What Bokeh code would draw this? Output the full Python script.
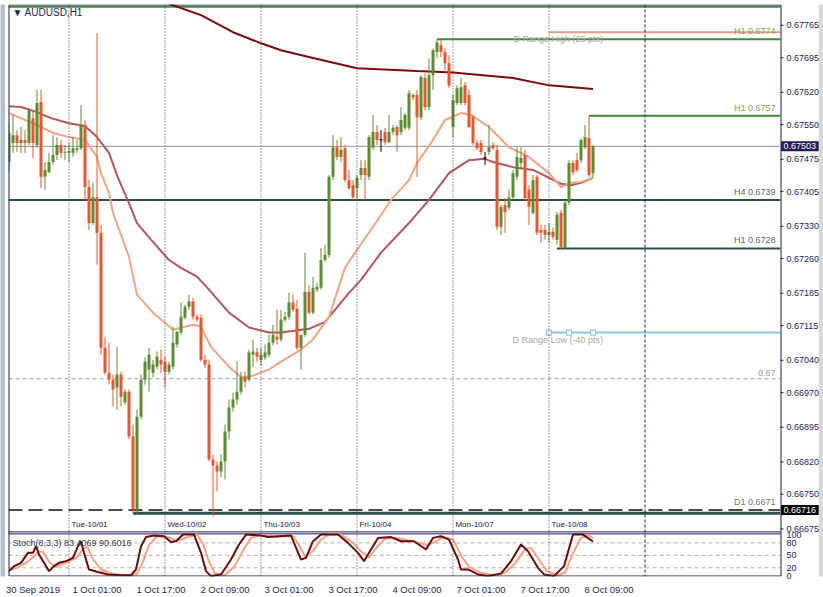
from bokeh.plotting import figure
from bokeh.models import (Range1d, LinearAxis, FixedTicker, Span, Label, ColumnDataSource)
from bokeh.core.properties import value
from bokeh.embed import file_html
from bokeh.resources import INLINE

# ---------------- data (AUDUSD H1, bar 0 = 30 Sep 2019 09:00) ----------------
OPEN = [0.67469, 0.67510, 0.67527, 0.67510, 0.67517, 0.67510, 0.67564, 0.67506, 0.67599, 0.67437,
        0.67447, 0.67469, 0.67484, 0.67506, 0.67489, 0.67489, 0.67489, 0.67495, 0.67499, 0.67549,
        0.67415, 0.67337, 0.67393, 0.67316, 0.67067, 0.67013, 0.66998, 0.66981, 0.67009, 0.66949,
        0.66972, 0.66875, 0.66717, 0.66918, 0.66998, 0.67020, 0.67013, 0.67026, 0.67041, 0.67037,
        0.67015, 0.67026, 0.67074, 0.67100, 0.67132, 0.67156, 0.67167, 0.67134, 0.67132, 0.67041,
        0.67031, 0.66825, 0.66812, 0.66799, 0.66821, 0.66886, 0.66938, 0.66955, 0.66972, 0.67003,
        0.66998, 0.67052, 0.67057, 0.67041, 0.67046, 0.67052, 0.67078, 0.67091, 0.67085, 0.67128,
        0.67134, 0.67165, 0.67152, 0.67067, 0.67095, 0.67188, 0.67143, 0.67193, 0.67197, 0.67257,
        0.67268, 0.67437, 0.67501, 0.67480, 0.67499, 0.67430, 0.67419, 0.67413, 0.67441, 0.67456,
        0.67437, 0.67501, 0.67534, 0.67517, 0.67534, 0.67512, 0.67534, 0.67545, 0.67534, 0.67543,
        0.67543, 0.67614, 0.67614, 0.67566, 0.67651, 0.67588, 0.67657, 0.67707, 0.67722, 0.67707,
        0.67683, 0.67545, 0.67597, 0.67597, 0.67635, 0.67614, 0.67566, 0.67510, 0.67510, 0.67478,
        0.67491, 0.67506, 0.67495, 0.67329, 0.67376, 0.67370, 0.67393, 0.67437, 0.67467, 0.67484,
        0.67409, 0.67359, 0.67437, 0.67322, 0.67322, 0.67311, 0.67318, 0.67301, 0.67359, 0.67283,
        0.67381, 0.67467, 0.67473, 0.67473, 0.67501, 0.67521, 0.67445]
HIGH = [0.67553, 0.67571, 0.67538, 0.67545, 0.67538, 0.67586, 0.67581, 0.67625, 0.67625, 0.67469,
        0.67489, 0.67527, 0.67523, 0.67517, 0.67506, 0.67510, 0.67523, 0.67517, 0.67592, 0.67560,
        0.67430, 0.67424, 0.67748, 0.67333, 0.67089, 0.67078, 0.67009, 0.67069, 0.67015, 0.66977,
        0.66977, 0.66901, 0.66933, 0.67009, 0.67046, 0.67067, 0.67041, 0.67059, 0.67063, 0.67048,
        0.67037, 0.67113, 0.67102, 0.67165, 0.67160, 0.67182, 0.67175, 0.67139, 0.67139, 0.67052,
        0.67041, 0.66836, 0.66821, 0.66836, 0.66901, 0.66955, 0.66970, 0.67037, 0.67015, 0.67015,
        0.67063, 0.67085, 0.67067, 0.67067, 0.67074, 0.67095, 0.67117, 0.67149, 0.67149, 0.67145,
        0.67186, 0.67182, 0.67171, 0.67095, 0.67273, 0.67203, 0.67221, 0.67208, 0.67283, 0.67290,
        0.67441, 0.67527, 0.67517, 0.67523, 0.67506, 0.67452, 0.67430, 0.67441, 0.67473, 0.67473,
        0.67527, 0.67571, 0.67549, 0.67538, 0.67543, 0.67571, 0.67549, 0.67549, 0.67588, 0.67575,
        0.67625, 0.67618, 0.67625, 0.67657, 0.67661, 0.67694, 0.67715, 0.67735, 0.67733, 0.67715,
        0.67700, 0.67614, 0.67635, 0.67651, 0.67642, 0.67625, 0.67571, 0.67517, 0.67517, 0.67491,
        0.67549, 0.67512, 0.67506, 0.67376, 0.67391, 0.67409, 0.67452, 0.67501, 0.67501, 0.67495,
        0.67419, 0.67441, 0.67441, 0.67333, 0.67333, 0.67337, 0.67327, 0.67361, 0.67365, 0.67387,
        0.67473, 0.67473, 0.67489, 0.67521, 0.67549, 0.67569, 0.67506]
LOW = [0.67447, 0.67489, 0.67491, 0.67489, 0.67489, 0.67506, 0.67478, 0.67499, 0.67413, 0.67409,
       0.67445, 0.67463, 0.67473, 0.67478, 0.67473, 0.67469, 0.67480, 0.67489, 0.67495, 0.67387,
       0.67322, 0.67333, 0.67247, 0.67052, 0.67009, 0.66987, 0.66940, 0.66933, 0.66940, 0.66944,
       0.66869, 0.66709, 0.66709, 0.66912, 0.66987, 0.66972, 0.67003, 0.67020, 0.67013, 0.66981,
       0.67009, 0.67020, 0.67067, 0.67095, 0.67128, 0.67149, 0.67128, 0.67123, 0.67037, 0.67024,
       0.66821, 0.66702, 0.66756, 0.66787, 0.66782, 0.66869, 0.66929, 0.66944, 0.66966, 0.66981,
       0.66994, 0.67026, 0.67037, 0.67028, 0.67041, 0.67046, 0.67072, 0.67074, 0.67080, 0.67123,
       0.67128, 0.67145, 0.67063, 0.67020, 0.67091, 0.67139, 0.67139, 0.67188, 0.67193, 0.67253,
       0.67262, 0.67430, 0.67473, 0.67469, 0.67426, 0.67409, 0.67387, 0.67387, 0.67430, 0.67387,
       0.67430, 0.67495, 0.67506, 0.67491, 0.67506, 0.67510, 0.67527, 0.67491, 0.67527, 0.67538,
       0.67538, 0.67603, 0.67437, 0.67560, 0.67581, 0.67581, 0.67625, 0.67694, 0.67696, 0.67668,
       0.67629, 0.67523, 0.67592, 0.67592, 0.67592, 0.67543, 0.67506, 0.67495, 0.67484, 0.67463,
       0.67484, 0.67495, 0.67322, 0.67311, 0.67316, 0.67365, 0.67387, 0.67430, 0.67456, 0.67387,
       0.67333, 0.67355, 0.67311, 0.67294, 0.67301, 0.67294, 0.67301, 0.67290, 0.67281, 0.67281,
       0.67376, 0.67441, 0.67447, 0.67467, 0.67497, 0.67437, 0.67435]
CLOSE = [0.67532, 0.67527, 0.67510, 0.67517, 0.67510, 0.67581, 0.67510, 0.67597, 0.67437, 0.67452,
         0.67469, 0.67484, 0.67506, 0.67489, 0.67491, 0.67493, 0.67499, 0.67499, 0.67549, 0.67415,
         0.67337, 0.67393, 0.67316, 0.67067, 0.67013, 0.66998, 0.66977, 0.67009, 0.66961, 0.66972,
         0.66875, 0.66717, 0.66918, 0.66998, 0.67037, 0.67052, 0.67031, 0.67048, 0.67031, 0.67015,
         0.67031, 0.67078, 0.67102, 0.67134, 0.67156, 0.67167, 0.67134, 0.67128, 0.67041, 0.67031,
         0.66825, 0.66812, 0.66799, 0.66821, 0.66886, 0.66938, 0.66955, 0.66972, 0.67003, 0.66994,
         0.67057, 0.67059, 0.67048, 0.67052, 0.67057, 0.67078, 0.67095, 0.67085, 0.67128, 0.67134,
         0.67165, 0.67149, 0.67067, 0.67095, 0.67188, 0.67143, 0.67197, 0.67199, 0.67257, 0.67268,
         0.67437, 0.67501, 0.67480, 0.67495, 0.67430, 0.67413, 0.67393, 0.67435, 0.67456, 0.67441,
         0.67523, 0.67534, 0.67517, 0.67517, 0.67512, 0.67534, 0.67543, 0.67527, 0.67560, 0.67571,
         0.67618, 0.67609, 0.67566, 0.67653, 0.67588, 0.67657, 0.67711, 0.67728, 0.67707, 0.67683,
         0.67635, 0.67603, 0.67629, 0.67631, 0.67597, 0.67545, 0.67510, 0.67499, 0.67491, 0.67478,
         0.67501, 0.67499, 0.67329, 0.67372, 0.67361, 0.67393, 0.67445, 0.67480, 0.67478, 0.67391,
         0.67372, 0.67430, 0.67316, 0.67316, 0.67311, 0.67318, 0.67307, 0.67355, 0.67285, 0.67381,
         0.67467, 0.67447, 0.67452, 0.67517, 0.67523, 0.67441, 0.67503]

# moving averages (bar index, price)
MA200_X = [35.5, 40.5, 48, 56, 63, 68, 76, 87, 102, 111, 126, 135, 138, 146]
MA200_Y = [0.67830, 0.67810, 0.67787, 0.67750, 0.67726, 0.67711, 0.67694, 0.67672, 0.67666,
           0.67663, 0.67651, 0.67635, 0.67633, 0.67627]
MAFAST_X = [0, 6, 11, 15, 19, 22, 23, 25, 26, 30, 32, 36, 41, 46, 48, 50.5, 55, 58, 60.5, 65, 68,
            73, 76, 80, 84, 87, 91, 95.5, 100, 102, 105.5, 109, 113, 115.5, 120, 125, 130, 135,
            138, 140.5, 143, 146]
MAFAST_Y = [0.67575, 0.67553, 0.67532, 0.67523, 0.67517, 0.67480, 0.67445, 0.67402, 0.67359,
            0.67264, 0.67182, 0.67143, 0.67106, 0.67117, 0.67113, 0.67069, 0.67026, 0.67003,
            0.67005, 0.67020, 0.67037, 0.67063, 0.67085, 0.67134, 0.67240, 0.67279, 0.67329,
            0.67387, 0.67430, 0.67467, 0.67510, 0.67560, 0.67575, 0.67571, 0.67545, 0.67501,
            0.67480, 0.67445, 0.67415, 0.67424, 0.67426, 0.67435]
MASLOW_X = [0, 3, 7, 10.5, 15, 19, 22, 25, 27, 29, 30, 32, 35.5, 40, 43, 47, 50, 55, 60, 65, 68,
            75, 79, 85, 88, 93, 100, 105, 110, 115, 119, 121, 126, 131, 138, 140.5, 143, 146]
MASLOW_Y = [0.67590, 0.67588, 0.67577, 0.67564, 0.67553, 0.67547, 0.67523, 0.67489, 0.67440,
            0.67400, 0.67380, 0.67337, 0.67301, 0.67257, 0.67240, 0.67221, 0.67193, 0.67143,
            0.67111, 0.67100, 0.67100, 0.67108, 0.67123, 0.67186, 0.67214, 0.67273, 0.67337,
            0.67387, 0.67445, 0.67473, 0.67476, 0.67469, 0.67458, 0.67452, 0.67422, 0.67419,
            0.67424, 0.67435]

# stochastic (8,3,3)
STOCH_K_X = [0, 1.3, 3, 4.75, 6, 6.75, 7.5, 8.75, 10, 11.25, 12.5, 14.25, 16, 17.25, 18, 18.75, 20,
             22.25, 24.75, 28, 30.5, 31.75, 33, 34.25, 36.25, 38.75, 40.5, 41.75, 43.5, 46.25, 48,
             49.25, 50.5, 53, 55.5, 57.5, 59.25, 63, 64.75, 70.5, 71.25, 73, 74.25, 76, 78, 82.25,
             84.75, 87.25, 88.75, 90.5, 92.25, 95.5, 98, 101.25, 104.25, 106, 108, 110, 112.25, 113,
             114.75, 117.25, 119.75, 123, 125.5, 128, 129.75, 132.25, 133.75, 136.25, 138.75, 141,
             143.5, 146]
STOCH_K = [12, 24, 32, 56, 56, 72, 52, 32, 12, 24, 32, 36, 44, 72, 84, 56, 16,
           10, 4, 2, 2, 16, 72, 94, 98, 96, 82, 84, 100, 100, 56,
           12, 0, 4, 40, 76, 100, 98, 94, 98, 80, 40, 44, 84, 100, 100,
           80, 56, 36, 64, 92, 94, 84, 84, 64, 92, 96, 88, 40, 16,
           16, 4, 0, 6, 36, 76, 60, 20, 4, 0, 24, 100,
           100, 83.4069]
STOCH_D_X = [0, 2, 4, 6, 7.5, 8.5, 10, 11.5, 13, 15, 17, 18.5, 19.5, 21, 23, 26, 30, 32, 33.5, 35,
             37, 40, 42, 44.5, 47, 48.5, 50, 51.5, 54, 56.5, 58.5, 60.5, 63, 66, 71, 72.5, 74, 76,
             78, 80, 83, 86, 88.5, 90, 92, 94, 97, 100, 104.5, 106.5, 108.5, 111, 113, 115, 118,
             121, 124, 126.5, 129, 130.5, 132.5, 134.5, 137, 139, 141, 143, 145, 146]
STOCH_D = [14, 20, 30, 45, 60, 58, 35, 22, 28, 35, 45, 65, 72, 40, 16, 5, 2, 5, 35, 75,
           96, 93, 85, 93, 100, 78, 35, 6, 2, 25, 62, 92, 99, 96, 96, 75, 48, 60,
           88, 100, 100, 80, 55, 45, 70, 90, 92, 86, 75, 82, 94, 88, 50, 22, 8,
           2, 8, 30, 65, 68, 40, 12, 2, 8, 55, 92, 98, 90.6016]

# axis ticks and labels
PRICE_TICKS = [0.66675, 0.66750, 0.66820, 0.66895, 0.66970, 0.67040, 0.67115, 0.67185,
               0.67260, 0.67330, 0.67405, 0.67475, 0.67550, 0.67620, 0.67695, 0.67765]
X_TICK_IDX = [0, 16, 32, 48, 64, 80, 96, 112, 128, 144]
X_TICK_LABELS = ["30 Sep 2019", "1 Oct 01:00", "1 Oct 17:00", "2 Oct 09:00", "3 Oct 01:00",
                 "3 Oct 17:00", "4 Oct 09:00", "7 Oct 01:00", "7 Oct 17:00", "8 Oct 09:00"]
DAY_SEP_IDX = [15, 39, 63, 87, 111, 135]
DAY_LABELS = ["Tue-10/01", "Wed-10/02", "Thu-10/03", "Fri-10/04", "Mon-10/07", "Tue-10/08"]
NEXT_DAY_IDX = 159
STOCH_LEVELS = [20, 50, 80]
STOCH_TICKS = [0, 20, 50, 80, 100]

# horizontal levels: label, price, first bar (None = full width)
LEVEL_TEXT = ["", "H1 0.6774", "", "H1 0.6757", "", "H4 0.6739", "H1 0.6728", "", "0.67",
              "D1 0.6671", ""]
LEVEL_PRICE = [0.67805, 0.67735, 0.67750, 0.67569, 0.67503, 0.67387, 0.67282, 0.67100, 0.67000,
               0.66716, 0.66709]
LEVEL_START = [None, 107, 135, 145, None, None, 137, 135, None, None, 31]
DRANGE_ANCHORS = [135, 140, 146]
BID = 0.67503
D1_LEVEL = 0.66716
STOCH_TEXT = "Stoch(8,3,3) 83.4069 90.6016"
SYMBOL = "AUDUSD,H1"

# ---------------- styles / layout ----------------
NAVY = "#1E1E5A"
FONT = "Liberation Sans"
BULL = "#5E8C31"
BEAR = "#E9552F"
LEVEL_COLOR = ["#3C8C32", "#3C8C32", "#E59A8C", "#3C8C32", "#8A949E", "#2F4F4F", "#2F4F4F",
               "#8FC8E6", "#A0A0A0", "#111111", "#2F4F4F"]
LEVEL_WIDTH = [2, 2, 2, 2, 1, 2, 2, 2, 1, 1.5, 3]
LEVEL_DASH = ["solid", "solid", "solid", "solid", "solid", "solid", "solid", "solid", "4 3",
              "14 6", "solid"]
LEVEL_TEXT_COLOR = ["", "#86A266", "", "#86A266", "", "#5A6868", "#5A6868", "", "#9A9A9A",
                    "#707878", ""]

PX = 0.25                          # bar units per pixel (4 px per bar)
X0 = -0.125                        # left edge of the chart pane (8 px)
XL = X0 - 8 * PX                   # frame starts at the window edge (0 px)
X_EDGE = X0 + 772 * PX             # right edge of the chart pane (780 px)
XR = X0 + 815 * PX                 # frame continues under the price scale (823 px)
Y0, Y1 = 0.66572, 0.67810          # price range of the whole frame (4 .. 577 px)
S0, S1 = -0.96, 1376.4             # stochastic scale sharing the frame (100 at 535 px)
PY = (Y1 - Y0) / 573.0
PANEL_GAP = (101.7, 106.5)         # stoch units of the strip between the two panes
LABEL_SHIFT = 6.0                  # bars: puts date labels to the right of their tick


def stoch_to_price(v):
    return Y0 + (v - S0) * (Y1 - Y0) / (S1 - S0)


p = figure(width=823, height=597, x_range=Range1d(XL, XR), y_range=Range1d(Y0, Y1),
           output_backend="svg", toolbar_location=None, x_axis_location=None,
           y_axis_location=None, min_border_left=0, min_border_right=0, min_border_top=4,
           min_border_bottom=20, background_fill_color="white", border_fill_color="white")
p.extra_y_ranges = {"stoch": Range1d(S0, S1)}
p.extra_x_ranges = {"lab": Range1d(XL - LABEL_SHIFT, XR - LABEL_SHIFT)}
p.outline_line_color = None
p.grid.grid_line_color = None

# price scale (labels drawn to the left of the axis position, over the scale strip)
stoch_tick_prices = [stoch_to_price(v) for v in STOCH_TICKS]
overrides = {t: "%.5f" % t for t in PRICE_TICKS}
for v, t in zip(STOCH_TICKS, stoch_tick_prices):
    overrides[t] = str(v)
yax = LinearAxis(ticker=FixedTicker(ticks=PRICE_TICKS + stoch_tick_prices),
                 major_label_overrides=overrides)
yax.axis_line_color = None
yax.major_tick_line_color = None
yax.minor_tick_line_color = None
yax.major_tick_out = 0
yax.major_tick_in = 0
yax.major_label_standoff = -37
yax.major_label_text_font = FONT
yax.major_label_text_font_size = "9px"
yax.major_label_text_color = NAVY
p.add_layout(yax, "right")

xax = LinearAxis(x_range_name="lab", ticker=FixedTicker(ticks=X_TICK_IDX),
                 major_label_overrides={i: s for i, s in zip(X_TICK_IDX, X_TICK_LABELS)})
xax.axis_line_color = None
xax.major_tick_line_color = None
xax.minor_tick_line_color = None
xax.major_label_standoff = 1
xax.major_label_text_font = FONT
xax.major_label_text_font_size = "9.5px"
xax.major_label_text_color = NAVY
p.add_layout(xax, "below")

# window chrome at the left and right edges
p.quad(left=[XL - 1], right=[XL + 4.5 * PX], bottom=[Y0 - 1], top=[Y1 + 1],
       fill_color="#B3C1D3", line_color=None)
p.quad(left=[XR - 5 * PX], right=[XR + 1], bottom=[Y0 - 1], top=[Y1 + 1],
       fill_color="#D9D9D9", line_color=None)

# day separators
for sx in DAY_SEP_IDX:
    p.add_layout(Span(location=sx, dimension="height", line_color="#3A3A50", line_width=1,
                      line_dash="1 2"))
p.add_layout(Span(location=NEXT_DAY_IDX, dimension="height", line_color=NAVY, line_width=1,
                  line_dash="3 2"))

# stochastic levels
p.segment(x0=[X0] * len(STOCH_LEVELS), y0=STOCH_LEVELS, x1=[X_EDGE] * len(STOCH_LEVELS),
          y1=STOCH_LEVELS, y_range_name="stoch", line_color="#B0B0B0", line_width=1,
          line_dash="4 3")

# horizontal levels
for pr, st, col, w, dash in zip(LEVEL_PRICE, LEVEL_START, LEVEL_COLOR, LEVEL_WIDTH, LEVEL_DASH):
    p.segment(x0=[X0 if st is None else st], y0=[pr], x1=[X_EDGE], y1=[pr],
              line_color=col, line_width=w, line_dash=dash)
p.scatter(x=DRANGE_ANCHORS, y=[LEVEL_PRICE[7]] * len(DRANGE_ANCHORS), marker="square", size=5,
          fill_color="white", line_color="#8FC8E6", line_width=1.2)

# moving averages
p.line(MASLOW_X, MASLOW_Y, line_color="#B4565B", line_width=2)
p.line(MAFAST_X, MAFAST_Y, line_color="#F3A482", line_width=2)
p.line(MA200_X, MA200_Y, line_color="#7C0A0A", line_width=2)

# candles
IDX = list(range(len(OPEN)))
COLS = [BULL if c > o else (BEAR if c < o else "#000000") for o, c in zip(OPEN, CLOSE)]
src = ColumnDataSource(dict(x=IDX, h=HIGH, l=LOW,
                            top=[max(o, c) for o, c in zip(OPEN, CLOSE)],
                            bot=[min(o, c) for o, c in zip(OPEN, CLOSE)], col=COLS))
p.segment(x0="x", y0="h", x1="x", y1="l", source=src, line_color="col", line_width=1)
p.vbar(x="x", width=0.75, top="top", bottom="bot", source=src, fill_color="col",
       line_color=None)
DOJI = [i for i, (o, c) in enumerate(zip(OPEN, CLOSE)) if o == c]
p.segment(x0=[i - 0.4 for i in DOJI], y0=[OPEN[i] for i in DOJI], x1=[i + 0.4 for i in DOJI],
          y1=[OPEN[i] for i in DOJI], line_color="#000000", line_width=1)

# strip between price pane and stochastic pane
p.quad(left=[X0], right=[X_EDGE], bottom=[PANEL_GAP[0]], top=[PANEL_GAP[1]],
       y_range_name="stoch", fill_color="white", line_color=NAVY, line_width=1)

# stochastic lines
p.line(STOCH_D_X, STOCH_D, y_range_name="stoch", line_color="#F3A482", line_width=2)
p.line(STOCH_K_X, STOCH_K, y_range_name="stoch", line_color="#6E0B0B", line_width=2)

# white strips outside the chart pane and chart border
p.quad(left=[X_EDGE], right=[XR - 5 * PX], bottom=[Y0 - 1], top=[Y1 + 1], fill_color="white",
       line_color=None)
p.quad(left=[XL + 4.5 * PX], right=[X0], bottom=[Y0 - 1], top=[Y1 + 1], fill_color="white",
       line_color=None)
p.quad(left=[X0 + 0.5 * PX], right=[X_EDGE + 0.5 * PX], bottom=[Y0 + 0.5 * PY],
       top=[Y1 - 0.5 * PY], fill_color=None, line_color=NAVY, line_width=1)
p.segment(x0=[X_EDGE] * len(PRICE_TICKS), y0=PRICE_TICKS, x1=[X_EDGE + 3 * PX] * len(PRICE_TICKS),
          y1=PRICE_TICKS, line_color=NAVY, line_width=1)

# boxed price tags on the scale
TAG_PRICE = [BID, D1_LEVEL]
TAG_COLOR = [NAVY, "#000000"]
p.rect(x=[X_EDGE + 19.4 * PX] * 2, y=TAG_PRICE, width=37.6 * PX, height=10 * PY,
       fill_color=TAG_COLOR, line_color=None)
p.text(x=[X_EDGE + 3 * PX] * 2, y=TAG_PRICE, text=["%.5f" % t for t in TAG_PRICE],
       text_font=value(FONT), text_font_size=value("9px"), text_color="white",
       text_baseline="middle")

# texts
p.add_layout(Label(x=X0 + 4 * PX, y=Y1 - 8 * PY, text="\u25BC " + SYMBOL,
                   text_font=FONT, text_font_size="10px", text_color=NAVY,
                   text_baseline="middle"))
for txt, pr, tc in zip(LEVEL_TEXT, LEVEL_PRICE, LEVEL_TEXT_COLOR):
    if txt:
        p.add_layout(Label(x=X_EDGE - 5 * PX, y=pr + 3 * PY, text=txt, text_font=FONT,
                           text_font_size="9px", text_color=tc, text_align="right",
                           text_baseline="bottom"))
p.add_layout(Label(x=X0 + 505 * PX, y=LEVEL_PRICE[2] - 2 * PY, text="D Range High (25 pts)",
                   text_font=FONT, text_font_size="9px", text_color="#A8A8A8",
                   text_baseline="top"))
p.add_layout(Label(x=X0 + 504 * PX, y=LEVEL_PRICE[7] - 2 * PY, text="D Range Low (-40 pts)",
                   text_font=FONT, text_font_size="9px", text_color="#A8A8A8",
                   text_baseline="top"))
p.text(x=[s + 0.6 for s in DAY_SEP_IDX], y=[Y1 - 521 * PY] * len(DAY_SEP_IDX),
       text=DAY_LABELS, text_font=value(FONT), text_font_size=value("8px"),
       text_color="#202040", text_baseline="middle")
p.add_layout(Label(x=X0 + 4 * PX, y=80, y_range_name="stoch", text=STOCH_TEXT, text_font=FONT,
                   text_font_size="9px", text_color="#3A3A4A", text_baseline="middle"))

open("out.html", "w").write(file_html(p, INLINE))
